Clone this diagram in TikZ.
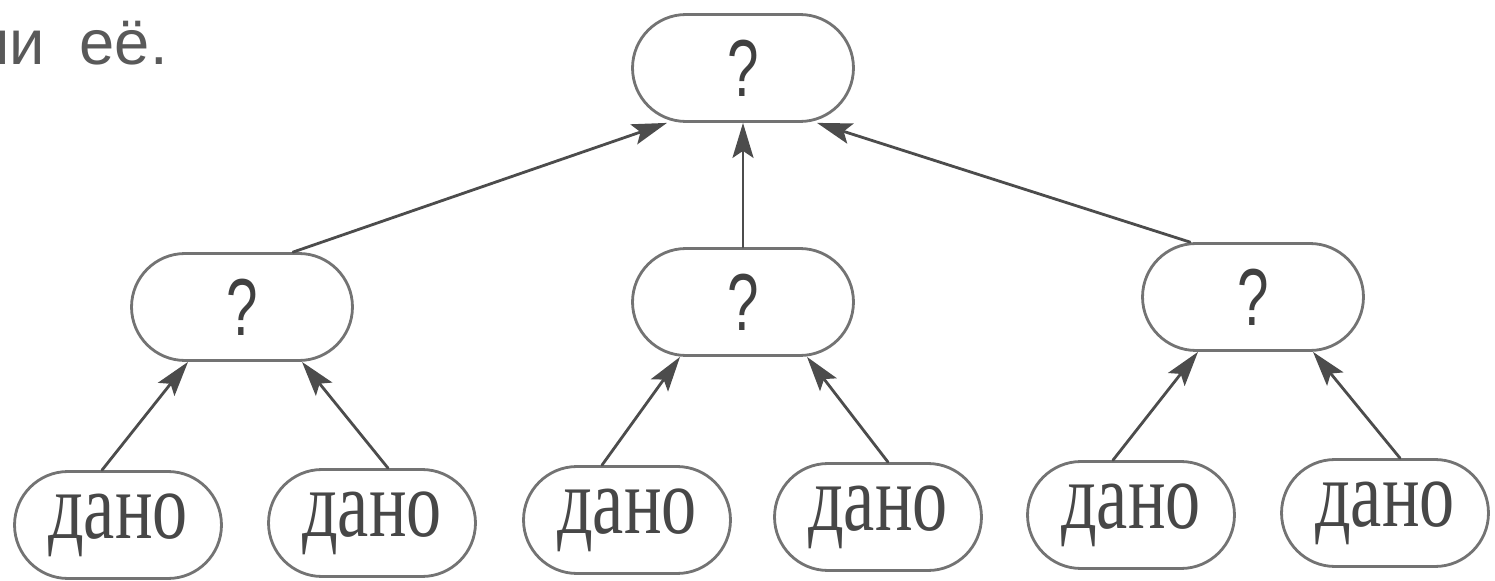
\documentclass[tikz,border=0pt]{standalone}
\usepackage{fontspec}
\setmainfont{Liberation Serif}
\newfontfamily\dfont{Liberation Serif}
\newfontfamily\qfont{Liberation Sans}
\usetikzlibrary{shapes.misc,arrows.meta}
\begin{document}
\begin{tikzpicture}[x=0.02cm,y=-0.02cm,line cap=round,line join=round,
    box/.style={rounded rectangle,draw=black!55,line width=1.6pt,minimum height=2.14cm,minimum width=4.42cm,inner sep=0pt},
    given/.style={box,minimum width=4.14cm,font=\dfont\fontsize{54}{54}\selectfont,text=black!72},
    ask/.style={box,font=\qfont\fontsize{46}{46}\selectfont,text=black!75},
    arr/.style={draw=black!70,line width=1.6pt,-{Stealth[length=0.7cm,width=0.42cm,inset=0.14cm]}}]
  \useasboundingbox (0,0) rectangle (1495,581);
  \node[anchor=base east,inner sep=0pt,text=black!65,font=\qfont\fontsize{36}{36}\selectfont] (txt) at (168,65) {ии\hspace{0.55em}её.};

  \node[ask] (t) at (743,68) {\scalebox{0.7}[1]{?}};
  \node[ask] (m1) at (242,307) {\scalebox{0.7}[1]{?}};
  \node[ask] (m2) at (743,302) {\scalebox{0.7}[1]{?}};
  \node[ask] (m3) at (1253,297) {\scalebox{0.7}[1]{?}};
  \node[given] (b1) at (118,525) {\scalebox{0.74}[1]{дано}};
  \node[given] (b2) at (372,523) {\scalebox{0.74}[1]{дано}};
  \node[given] (b3) at (627,520) {\scalebox{0.74}[1]{дано}};
  \node[given] (b4) at (878,517) {\scalebox{0.74}[1]{дано}};
  \node[given] (b5) at (1131,515) {\scalebox{0.74}[1]{дано}};
  \node[given] (b6) at (1385,513) {\scalebox{0.74}[1]{дано}};

  \draw[arr] ([shift={(-16,0)}]b1.north) -- ([shift={(-54,0)}]m1.south);
  \draw[arr] ([shift={(16,0)}]b2.north) -- ([shift={(60,0)}]m1.south);
  \draw[arr] ([shift={(-25,0)}]b3.north) -- ([shift={(-63,0)}]m2.south);
  \draw[arr] ([shift={(10,0)}]b4.north) -- ([shift={(64,0)}]m2.south);
  \draw[arr] ([shift={(-18,0)}]b5.north) -- ([shift={(-55,0)}]m3.south);
  \draw[arr] ([shift={(15,0)}]b6.north) -- ([shift={(60,0)}]m3.south);
  \draw[arr] ([shift={(51,0)}]m1.north) -- ([shift={(-76,0)}]t.south);
  \draw[arr] (m2.north) -- (t.south);
  \draw[arr] ([shift={(-63,0)}]m3.north) -- ([shift={(74,0)}]t.south);
\end{tikzpicture}
\end{document}
